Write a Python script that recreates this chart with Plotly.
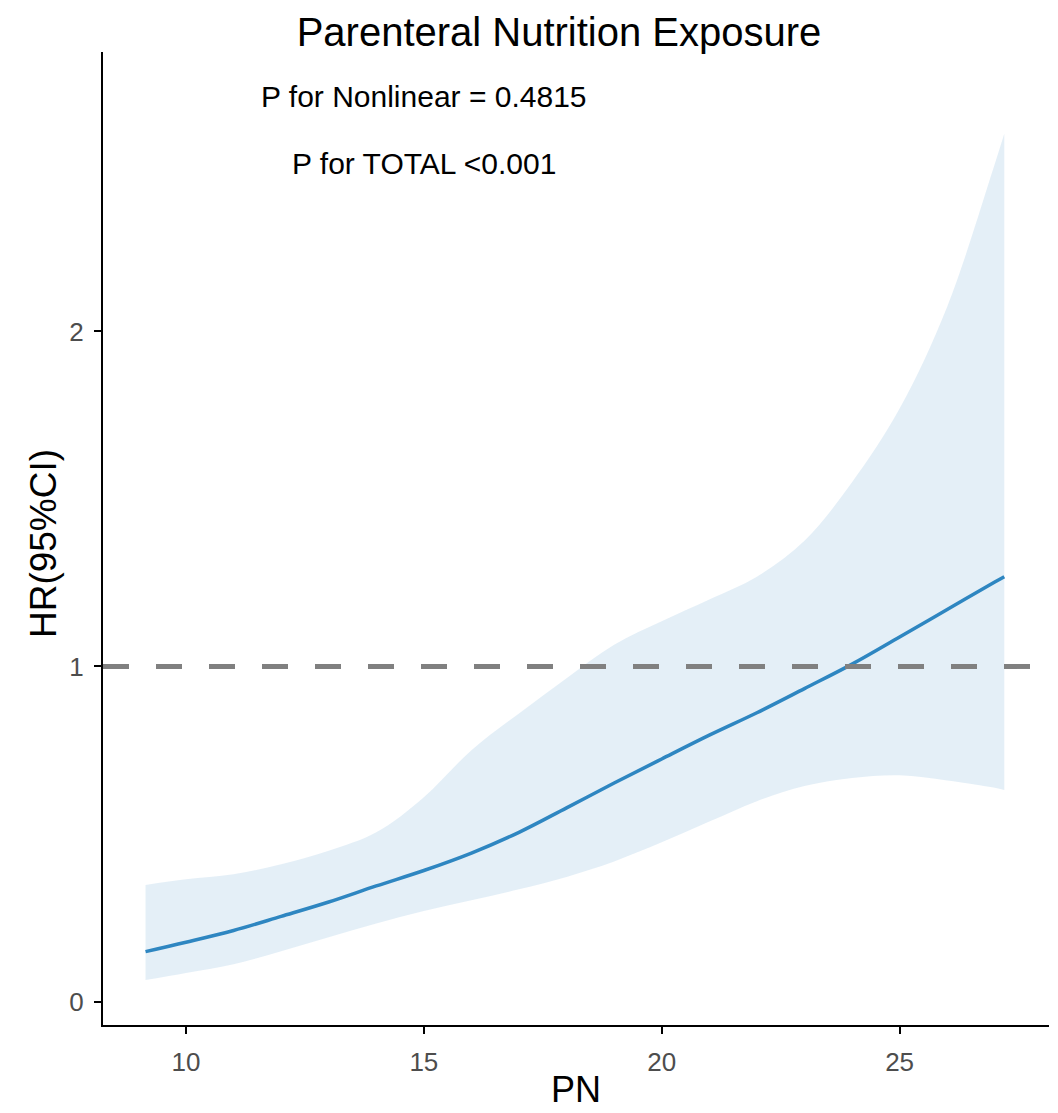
import plotly.graph_objects as go

# PN values (x) and estimated hazard ratios with 95% CI
pn = [9.15, 10, 11, 12, 13, 14, 15, 16, 17, 18, 19, 20, 21, 22, 23, 24, 25, 26, 27, 27.2]
hr = [0.149, 0.177, 0.212, 0.254, 0.297, 0.345, 0.391, 0.443, 0.505, 0.578, 0.652, 0.724,
      0.795, 0.862, 0.934, 1.007, 1.088, 1.170, 1.252, 1.268]
upper = [0.348, 0.365, 0.380, 0.410, 0.450, 0.505, 0.610, 0.750, 0.860, 0.965, 1.065, 1.135,
         1.200, 1.268, 1.375, 1.550, 1.770, 2.074, 2.500, 2.590]
lower = [0.064, 0.085, 0.111, 0.150, 0.192, 0.233, 0.270, 0.302, 0.335, 0.372, 0.418, 0.475,
         0.537, 0.598, 0.643, 0.667, 0.675, 0.660, 0.638, 0.631]

x_ticks = [10, 15, 20, 25]
y_ticks = [0, 1, 2]
ref_hr = 1

title_text = "Parenteral Nutrition Exposure"
note1 = "P for Nonlinear = 0.4815"
note2 = "P for TOTAL <0.001"
x_title = "PN"
y_title = "HR(95%CI)"

fill_col = "rgba(46,134,193,0.13)"
line_col = "#2E86C1"
FONT = "Liberation Sans, Arial"

# the page body adds an 8px offset, so the figure is 8px smaller than the window
W, H = 1050, 1105

fig = go.Figure()
fig.add_trace(go.Scatter(x=pn, y=lower, mode="lines", line=dict(width=0, shape="spline"),
                         showlegend=False, hoverinfo="skip"))
fig.add_trace(go.Scatter(x=pn, y=upper, mode="lines", line=dict(width=0, shape="spline"),
                         fill="tonexty", fillcolor=fill_col,
                         showlegend=False, hoverinfo="skip"))
fig.add_trace(go.Scatter(x=pn, y=hr, mode="lines",
                         line=dict(color=line_col, width=3.5, shape="spline"),
                         showlegend=False))

fig.add_shape(type="line", xref="paper", x0=0, x1=1, yref="y", y0=ref_hr, y1=ref_hr,
              line=dict(color="#808080", width=5, dash="26px,27px"), layer="above")

fig.add_annotation(x=15, y=2.7, xref="x", yref="y", text=note1, showarrow=False,
                   font=dict(family=FONT, size=30, color="#000000"))
fig.add_annotation(x=15, y=2.5, xref="x", yref="y", text=note2, showarrow=False,
                   font=dict(family=FONT, size=30, color="#000000"))

# axis titles
fig.add_annotation(x=0.5, y=0, xref="paper", yref="paper", text=x_title, showarrow=False,
                   xanchor="center", yanchor="bottom", yshift=-87,
                   font=dict(family=FONT, size=36, color="#000000"))
fig.add_annotation(x=0, y=0.4943, xref="paper", yref="paper", text=y_title, showarrow=False,
                   textangle=-90, xanchor="center", yanchor="middle", xshift=-60,
                   font=dict(family=FONT, size=37, color="#000000"))

fig.update_layout(
    width=W, height=H,
    margin=dict(l=95, r=9, t=44, b=88),
    paper_bgcolor="white", plot_bgcolor="white",
    font=dict(family=FONT, color="#000000"),
    title=dict(text=title_text, x=551 / W, xanchor="center", y=1 - 24 / H,
               yref="container", yanchor="middle",
               font=dict(size=40, color="#000000")),
    xaxis=dict(range=[8.256, 28.14], tickvals=x_ticks, showgrid=False, zeroline=False,
               showline=True, linecolor="black", linewidth=2, automargin=False,
               ticks="outside", ticklen=7, tickwidth=2, tickcolor="black",
               ticklabelstandoff=6,
               tickfont=dict(size=26, color="#4D4D4D")),
    yaxis=dict(range=[-0.0701, 2.834], tickvals=y_ticks, showgrid=False, zeroline=False,
               showline=True, linecolor="black", linewidth=2, automargin=False,
               ticks="outside", ticklen=7, tickwidth=2, tickcolor="black",
               ticklabelstandoff=5,
               tickfont=dict(size=26, color="#4D4D4D")),
)

fig.write_html("out.html")
